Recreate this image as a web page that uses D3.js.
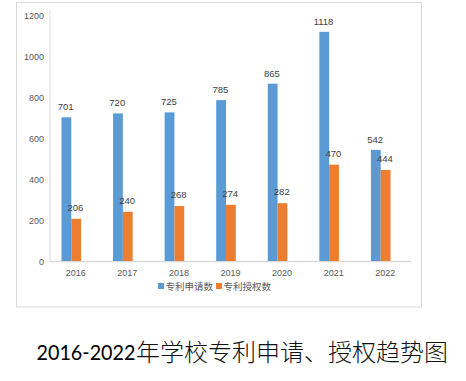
<!DOCTYPE html>
<html><head><meta charset="utf-8">
<script src="https://cdn.jsdelivr.net/npm/d3@7"></script>
<style>html,body{margin:0;padding:0;background:#fff;}svg{display:block;}</style>
</head><body>
<script>
const years = ["2016","2017","2018","2019","2020","2021","2022"];
const applied = [701,720,725,785,865,1118,542];
const granted = [206,240,268,274,282,470,444];
const yTicks = [0,200,400,600,800,1000,1200];
const seriesNames = ["专利申请数","专利授权数"];
const colors = ["#5b9bd5","#ed7d31"];
const titleNum = "2016-2022";
const titleCjk = "年学校专利申请、授权趋势图";

const W = 466, H = 381;
const svg = d3.select("body").append("svg").attr("width", W).attr("height", H);

// chart frame
svg.append("rect").attr("x",16.5).attr("y",2.5).attr("width",405).attr("height",304.5)
  .attr("fill","#fff").attr("stroke","#d9d9d9").attr("stroke-width",1);

const y = d3.scaleLinear().domain([0,1200]).range([261,15]);
const x = d3.scaleBand().domain(years).range([50,411]);
const barW = 9.8, shift = -4.5;

// y axis line
svg.append("line").attr("x1",50).attr("x2",50).attr("y1",10).attr("y2",261)
  .attr("stroke","#d9d9d9").attr("stroke-width",1);
// baseline
svg.append("line").attr("x1",50).attr("x2",411).attr("y1",261.5).attr("y2",261.5)
  .attr("stroke","#d9d9d9").attr("stroke-width",1.5);

const font = "'Liberation Sans', Arial, sans-serif";
svg.append("g").selectAll("text").data(yTicks).join("text")
  .attr("x",44).attr("y",d=>y(d)+3.5).attr("text-anchor","end")
  .attr("font-family",font).attr("font-size",9).attr("fill","#595959").text(d=>d);

svg.append("g").selectAll("text").data(years).join("text")
  .attr("x",d=>x(d)+x.bandwidth()/2).attr("y",276).attr("text-anchor","middle")
  .attr("font-family",font).attr("font-size",9).attr("fill","#595959").text(d=>d);

const series = [applied, granted];
series.forEach((vals,si)=>{
  const g = svg.append("g");
  const bx = (i)=> x(years[i]) + x.bandwidth()/2 + shift + (si===0 ? -barW : 0);
  g.selectAll("rect").data(vals).join("rect")
    .attr("x",(d,i)=>bx(i)).attr("width",barW)
    .attr("y",d=>y(d)).attr("height",d=>y(0)-y(d))
    .attr("fill",colors[si]);
  g.selectAll("text").data(vals).join("text")
    .attr("x",(d,i)=>bx(i)+barW/2 - 0.7).attr("y",d=>y(d)-(si===0?7:8))
    .attr("text-anchor","middle").attr("font-family",font).attr("font-size",9.5)
    .attr("fill","#404040").text(d=>d);
});

// legend
const lg = svg.append("g");
const lx = [158,216];
seriesNames.forEach((n,i)=>{
  lg.append("rect").attr("x",lx[i]).attr("y",283).attr("width",6).attr("height",6).attr("fill",colors[i]);
  lg.append("text").attr("x",lx[i]+7.5).attr("y",289.5).attr("font-family","'Noto Sans CJK SC', sans-serif")
    .attr("font-size",9.5).attr("fill","#595959").text(n);
});

// title
svg.append("text").attr("x",36.5).attr("y",360).attr("font-family","Lato, 'Open Sans', sans-serif")
  .attr("font-size",21).attr("fill","#000").attr("textLength",99).attr("lengthAdjust","spacingAndGlyphs").text(titleNum);
svg.append("text").attr("x",136).attr("y",361).attr("font-family","'Noto Sans CJK SC', sans-serif")
  .attr("font-size",24).attr("font-weight",300).attr("fill","#111").text(titleCjk);
</script>
</body></html>
